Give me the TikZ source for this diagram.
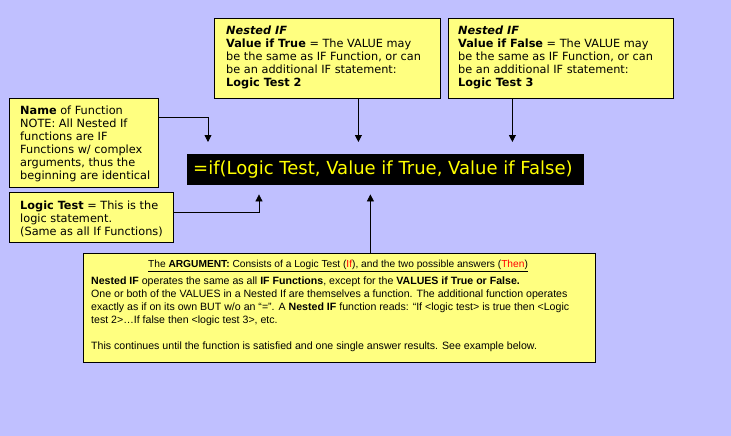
\documentclass[tikz,border=0pt]{standalone}
\usepackage{fontspec}
\setmainfont{DejaVu Sans}
\newfontfamily\argfont{Liberation Sans}
\usetikzlibrary{arrows.meta}
\definecolor{bgblue}{RGB}{192,192,255}
\definecolor{noteyellow}{RGB}{255,255,128}
\definecolor{fyellow}{RGB}{255,255,0}
\definecolor{argred}{RGB}{255,0,0}
\begin{document}
\begin{tikzpicture}[x=1pt,y=-1pt,
  box/.style={draw=black, line width=0.8pt, fill=noteyellow, anchor=north west, inner sep=0pt},
  txt/.style={anchor=north west, inner sep=0pt, align=left, font=\fontsize{11.3}{13}\selectfont},
  argtxt/.style={anchor=north west, inner sep=0pt, align=left, font=\argfont\fontsize{10.6}{13}\selectfont},
  arr/.style={line width=0.8pt, -{Triangle[width=7pt,length=7pt]}}]
\fill[bgblue] (0,0) rectangle (731,436);
% boxes
\node[box, minimum width=226pt, minimum height=80pt] (tbox) at (214,18) {};
\node[box, minimum width=225pt, minimum height=80pt] (fbx) at (448,18) {};
\node[box, minimum width=149pt, minimum height=89pt] (nbox) at (9,98) {};
\node[box, minimum width=164pt, minimum height=50pt] (lbox) at (9,192) {};
\node[box, minimum width=512pt, minimum height=109pt] (abox) at (83,253) {};
\node[fill=black, inner sep=0pt, anchor=north west, minimum width=397pt, minimum height=31pt] (fbox) at (187,154) {};
% texts
\node[txt] (ttxt) at (226,25.5) {\textbf{\textit{Nested IF}}\\
\textbf{Value if True} = The VALUE may\\
be the same as IF Function, or can\\
be an additional IF statement:\\
\textbf{Logic Test 2}};
\node[txt] (ftxt2) at (458,25.5) {\textbf{\textit{Nested IF}}\\
\textbf{Value if False} = The VALUE may\\
be the same as IF Function, or can\\
be an additional IF statement:\\
\textbf{Logic Test 3}};
\node[txt] (ntxt) at (20,105.5) {\textbf{Name} of Function\\
NOTE: All Nested If\\
functions are IF\\
Functions w/ complex\\
arguments, thus the\\
beginning are identical};
\node[txt] (ltxt) at (20,200.5) {\textbf{Logic Test} = This is the\\
logic statement.\\
(Same as all If Functions)};
\node[anchor=west, inner sep=0pt, text=fyellow, font=\fontsize{18}{18}\selectfont] (formula) at (193,169.5) {=if(Logic Test, Value if True, Value if False)};
\node[anchor=center, inner sep=0pt, font=\argfont\fontsize{10.2}{13}\selectfont] (ahead) at (338,266) {\underline{The \textbf{ARGUMENT:} Consists of a Logic Test (\textcolor{argred}{If}), and the two possible answers (\textcolor{argred}{Then})}};
\node[argtxt] (abody) at (91,277) {\textbf{Nested IF} operates the same as all \textbf{IF Functions}, except for the \textbf{VALUES if True or False.}\\
One or both of the VALUES in a Nested If are themselves a function. The additional function operates\\
exactly as if on its own BUT w/o an “=”. A \textbf{Nested IF} function reads: “If <logic test> is true then <Logic\\
test 2>…If false then <logic test 3>, etc.\\[13pt]
This continues until the function is satisfied and one single answer results. See example below.};
% connectors
\draw[arr, shorten >=12pt] ([yshift=25.5pt]nbox.east) -| ([xshift=21pt]fbox.north west);
\draw[arr, shorten >=12pt] ([xshift=31pt]tbox.south) -- ([xshift=31pt]tbox.south |- fbox.north);
\draw[arr, shorten >=12pt] ([xshift=-48.5pt]fbx.south) -- ([xshift=-48.5pt]fbx.south |- fbox.north);
\draw[arr, shorten >=9pt] ([yshift=5pt]lbox.east) -| ([xshift=72pt]fbox.south west);
\draw[arr, shorten >=9pt] ([xshift=31pt]abox.north) -- ([xshift=31pt]abox.north |- fbox.south);
\end{tikzpicture}
\end{document}
